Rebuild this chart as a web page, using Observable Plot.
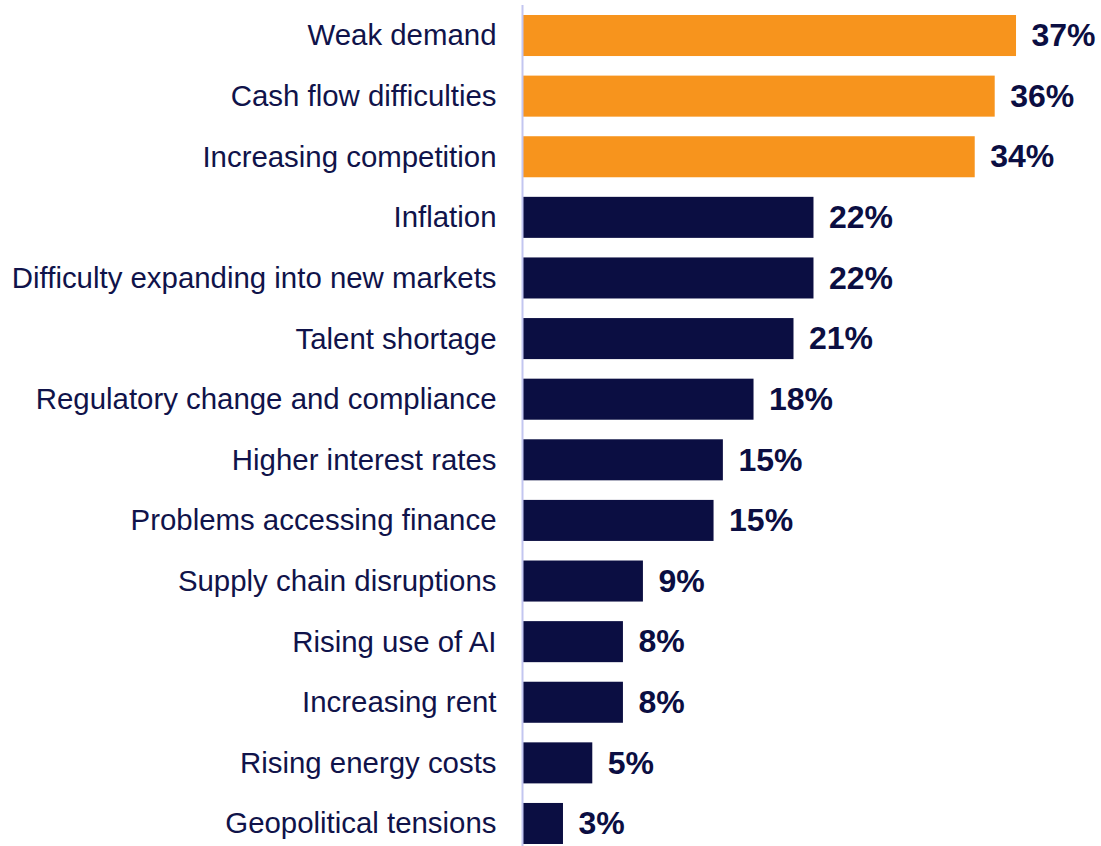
<!DOCTYPE html>
<html>
<head>
<meta charset="utf-8">
<script src="https://cdn.jsdelivr.net/npm/d3@7"></script>
<script src="https://cdn.jsdelivr.net/npm/@observablehq/plot@0.6"></script>
<style>
  html, body { margin: 0; padding: 0; background: #ffffff; }
  #chart { width: 1101px; height: 846px; overflow: hidden; }
</style>
</head>
<body>
<div id="chart"></div>
<script>
const categories = [
  "Weak demand",
  "Cash flow difficulties",
  "Increasing competition",
  "Inflation",
  "Difficulty expanding into new markets",
  "Talent shortage",
  "Regulatory change and compliance",
  "Higher interest rates",
  "Problems accessing finance",
  "Supply chain disruptions",
  "Rising use of AI",
  "Increasing rent",
  "Rising energy costs",
  "Geopolitical tensions"
];
const values = [37, 35.4, 33.9, 21.8, 21.8, 20.3, 17.3, 15.0, 14.3, 9.0, 7.5, 7.5, 5.2, 3.0];
const valueLabels = ["37%", "36%", "34%", "22%", "22%", "21%", "18%", "15%", "15%", "9%", "8%", "8%", "5%", "3%"];
const groups = ["top", "top", "top", "other", "other", "other", "other", "other", "other", "other", "other", "other", "other", "other"];

const navy = "#0b0e42";
const orange = "#f7941d";
const data = categories.map((c, i) => ({category: c, value: values[i], label: valueLabels[i], group: groups[i]}));

const chart = Plot.plot({
  width: 1101,
  height: 846,
  marginLeft: 523,
  marginRight: 45,
  marginTop: 15,
  marginBottom: 2,
  style: {fontFamily: "'Liberation Sans', Arial, sans-serif", color: navy, background: "#ffffff"},
  x: {domain: [0, 40], axis: null},
  y: {domain: categories, paddingInner: 0.323, paddingOuter: 0, round: false},
  color: {domain: ["top", "other"], range: [orange, navy]},
  marks: [
    Plot.barX(data, {x: "value", y: "category", fill: "group"}),
    Plot.ruleX([0], {stroke: "#c3c6f0", strokeWidth: 2, dx: -1, insetTop: -10, insetBottom: -2}),
    Plot.axisY({tickSize: 0, tickPadding: 27, fontSize: 29.4, fill: "#10134a", label: null}),
    Plot.text(data, {x: "value", y: "category", text: "label", dx: 15, textAnchor: "start", fontSize: 32, fontWeight: "bold", fill: navy})
  ]
});
document.getElementById("chart").appendChild(chart);
</script>
</body>
</html>
